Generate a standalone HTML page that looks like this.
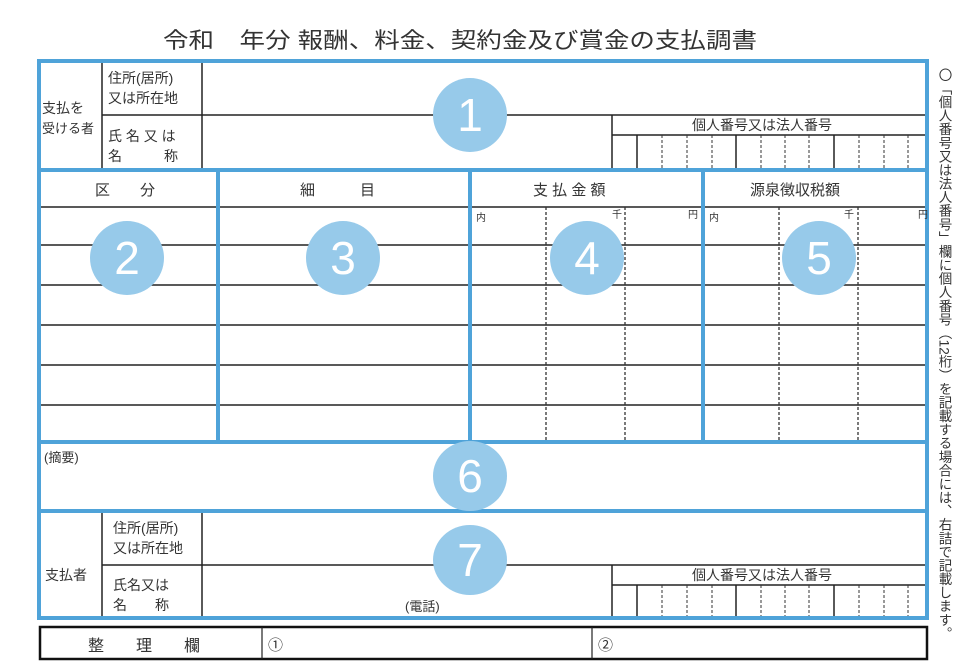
<!DOCTYPE html>
<html><head><meta charset="utf-8"><style>
html,body{margin:0;padding:0;background:#fff;}
svg{display:block;}
text{font-family:"Liberation Sans","Noto Sans CJK JP",sans-serif;fill:#333;}
.c{fill:#97CAEA;}
.n{fill:#fff;font-size:46px;text-anchor:middle;font-family:"Liberation Sans",sans-serif;}
</style></head><body>
<svg width="979" height="667" viewBox="0 0 979 667" xmlns="http://www.w3.org/2000/svg">
<text x="163" y="48" font-size="22" textLength="594" lengthAdjust="spacingAndGlyphs">令和　年分 報酬、料金、契約金及び賞金の支払調書</text>

<g stroke="#222" stroke-width="1.5" fill="none">
<!-- section1 -->
<line x1="102" y1="61" x2="102" y2="170"/><line x1="202" y1="61" x2="202" y2="170"/>
<line x1="102" y1="115" x2="927" y2="115"/>
<line x1="612" y1="115" x2="612" y2="170"/><line x1="612" y1="135" x2="927" y2="135"/>
<line x1="637" y1="135" x2="637" y2="170"/><line x1="736" y1="135" x2="736" y2="170"/><line x1="834" y1="135" x2="834" y2="170"/>
<!-- section7 -->
<line x1="102" y1="511" x2="102" y2="618"/><line x1="202" y1="511" x2="202" y2="618"/>
<line x1="102" y1="565" x2="927" y2="565"/>
<line x1="612" y1="565" x2="612" y2="618"/><line x1="612" y1="585" x2="927" y2="585"/>
<line x1="637" y1="585" x2="637" y2="618"/><line x1="736" y1="585" x2="736" y2="618"/><line x1="834" y1="585" x2="834" y2="618"/>
<!-- table rows -->
<line x1="39" y1="207" x2="927" y2="207"/>
<line x1="39" y1="245" x2="927" y2="245"/><line x1="39" y1="285" x2="927" y2="285"/>
<line x1="39" y1="325" x2="927" y2="325"/><line x1="39" y1="365" x2="927" y2="365"/>
<line x1="39" y1="405" x2="927" y2="405"/>
</g>
<g stroke="#333" stroke-width="1" stroke-dasharray="3,2">
<line x1="662" y1="135" x2="662" y2="170"/><line x1="687" y1="135" x2="687" y2="170"/><line x1="712" y1="135" x2="712" y2="170"/>
<line x1="761" y1="135" x2="761" y2="170"/><line x1="785" y1="135" x2="785" y2="170"/><line x1="809" y1="135" x2="809" y2="170"/>
<line x1="859" y1="135" x2="859" y2="170"/><line x1="884" y1="135" x2="884" y2="170"/><line x1="908" y1="135" x2="908" y2="170"/>
<line x1="662" y1="585" x2="662" y2="618"/><line x1="687" y1="585" x2="687" y2="618"/><line x1="712" y1="585" x2="712" y2="618"/>
<line x1="761" y1="585" x2="761" y2="618"/><line x1="785" y1="585" x2="785" y2="618"/><line x1="809" y1="585" x2="809" y2="618"/>
<line x1="859" y1="585" x2="859" y2="618"/><line x1="884" y1="585" x2="884" y2="618"/><line x1="908" y1="585" x2="908" y2="618"/>
<line x1="546" y1="207" x2="546" y2="442" stroke-width="1.3"/><line x1="625" y1="207" x2="625" y2="442" stroke-width="1.3"/>
<line x1="779" y1="207" x2="779" y2="442" stroke-width="1.3"/><line x1="858" y1="207" x2="858" y2="442" stroke-width="1.3"/>
</g>
<!-- blue frame -->
<g stroke="#4FA3D9" stroke-width="4" fill="none">
<rect x="39" y="61" width="888" height="557"/>
<line x1="39" y1="170" x2="927" y2="170"/>
<line x1="39" y1="442" x2="927" y2="442"/>
<line x1="39" y1="511" x2="927" y2="511"/>
<line x1="218" y1="170" x2="218" y2="442"/>
<line x1="470" y1="170" x2="470" y2="442"/>
<line x1="703" y1="170" x2="703" y2="442"/>
</g>
<!-- bottom box -->
<rect x="40" y="627" width="887" height="32" fill="none" stroke="#111" stroke-width="2.5"/>
<line x1="262" y1="627" x2="262" y2="659" stroke="#222" stroke-width="1.2"/>
<line x1="592" y1="627" x2="592" y2="659" stroke="#222" stroke-width="1.2"/>
<text x="88" y="651" font-size="16">整　　理　　欄</text>
<text x="268" y="650" font-size="15">①</text>
<text x="598" y="650" font-size="15">②</text>

<!-- labels section 1 -->
<text x="42" y="113" font-size="14">支払を</text>
<text x="42" y="133" font-size="13">受ける者</text>
<text x="108" y="83" font-size="14">住所(居所)</text>
<text x="108" y="103" font-size="14">又は所在地</text>
<text x="108" y="141" font-size="14">氏 名 又 は</text>
<text x="108" y="161" font-size="14">名　　　称</text>
<text x="692" y="130" font-size="14">個人番号又は法人番号</text>
<!-- section 7 -->
<text x="45" y="580" font-size="14">支払者</text>
<text x="113" y="533" font-size="14">住所(居所)</text>
<text x="113" y="553" font-size="14">又は所在地</text>
<text x="113" y="590" font-size="14">氏名又は</text>
<text x="113" y="610" font-size="14">名　　称</text>
<text x="405" y="611" font-size="13">(電話)</text>
<text x="692" y="580" font-size="14">個人番号又は法人番号</text>
<text x="44" y="462" font-size="13">(摘要)</text>
<!-- headers -->
<text x="95" y="195" font-size="15">区　　分</text>
<text x="300" y="195" font-size="15">細　　　目</text>
<text x="533" y="195" font-size="15">支 払 金 額</text>
<text x="750" y="195" font-size="15">源泉徴収税額</text>
<text x="476" y="221" font-size="10">内</text><text x="612" y="218" font-size="10">千</text><text x="688" y="218" font-size="10">円</text>
<text x="709" y="221" font-size="10">内</text><text x="844" y="218" font-size="10">千</text><text x="918" y="218" font-size="10">円</text>

<!-- right vertical text -->
<text x="944" y="68" font-size="13.5" style="writing-mode:vertical-rl;glyph-orientation-vertical:0" textLength="572" lengthAdjust="spacing">〇「個人番号又は法人番号」欄に個人番号（12桁）を記載する場合には、右詰で記載します。</text>

<!-- circles -->
<circle class="c" cx="470" cy="115" r="37"/><text class="n" x="470" y="131">1</text>
<circle class="c" cx="127" cy="258" r="37"/><text class="n" x="127" y="274">2</text>
<circle class="c" cx="343" cy="258" r="37"/><text class="n" x="343" y="274">3</text>
<circle class="c" cx="587" cy="258" r="37"/><text class="n" x="587" y="274">4</text>
<circle class="c" cx="819" cy="258" r="37"/><text class="n" x="819" y="274">5</text>
<ellipse class="c" cx="470" cy="476" rx="37" ry="35"/><text class="n" x="470" y="492">6</text>
<ellipse class="c" cx="470" cy="560" rx="37" ry="35"/><text class="n" x="470" y="576">7</text>
</svg>
</body></html>
